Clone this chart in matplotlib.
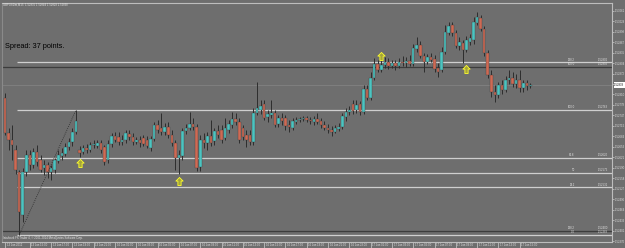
import matplotlib
matplotlib.use('Agg')
import matplotlib.pyplot as plt
from matplotlib.patches import Rectangle
from matplotlib.path import Path
import numpy as np

# ---------------- data (GBPUSD candles) ----------------
opens = [1.52799,1.52694,1.52673,1.52643,1.52577,1.52448,1.52577,1.52628,1.52598,1.52637,
         1.52613,1.52589,1.52598,1.52577,1.52583,1.52610,1.52625,1.52631,1.52652,1.52667,
         1.52697,1.52643,1.52637,1.52649,1.52643,1.52658,1.52655,1.52664,1.52652,1.52613,
         1.52661,1.52685,1.52682,1.52667,1.52673,1.52691,1.52682,1.52667,1.52673,1.52679,
         1.52673,1.52649,1.52676,1.52718,1.52709,1.52697,1.52712,1.52688,1.52664,1.52619,
         1.52625,1.52700,1.52709,1.52721,1.52712,1.52592,1.52673,1.52664,1.52685,1.52670,
         1.52700,1.52703,1.52679,1.52703,1.52718,1.52736,1.52727,1.52709,1.52688,1.52688,
         1.52667,1.52754,1.52763,1.52781,1.52742,1.52748,1.52754,1.52721,1.52739,1.52739,
         1.52718,1.52709,1.52727,1.52733,1.52736,1.52739,1.52733,1.52727,1.52736,1.52730,
         1.52718,1.52709,1.52703,1.52697,1.52706,1.52712,1.52742,1.52757,1.52781,1.52763,
         1.52781,1.52757,1.52826,1.52799,1.52859,1.52901,1.52883,1.52898,1.52907,1.52895,
         1.52904,1.52895,1.52907,1.52904,1.52910,1.52901,1.52946,1.52958,1.52925,1.52907,
         1.52922,1.52916,1.52889,1.52883,1.52937,1.52994,1.53018,1.52994,1.52955,1.52964,
         1.52943,1.52967,1.52973,1.53024,1.53039,1.53006,1.52934,1.52868,1.52817,1.52808,
         1.52838,1.52823,1.52853,1.52859,1.52841,1.52853,1.52829,1.52844,1.52835]
highs = [1.52814,1.52709,1.52718,1.52658,1.52583,1.52589,1.52643,1.52643,1.52649,1.52658,
         1.52628,1.52613,1.52607,1.52598,1.52619,1.52643,1.52649,1.52664,1.52679,1.52709,
         1.52763,1.52655,1.52658,1.52661,1.52667,1.52673,1.52673,1.52673,1.52658,1.52673,
         1.52694,1.52697,1.52697,1.52688,1.52703,1.52703,1.52694,1.52682,1.52685,1.52688,
         1.52685,1.52685,1.52727,1.52733,1.52754,1.52724,1.52727,1.52703,1.52673,1.52643,
         1.52709,1.52721,1.52757,1.52739,1.52721,1.52688,1.52694,1.52697,1.52733,1.52709,
         1.52718,1.52718,1.52739,1.52733,1.52757,1.52754,1.52739,1.52718,1.52703,1.52703,
         1.52769,1.52847,1.52793,1.52793,1.52763,1.52793,1.52763,1.52748,1.52754,1.52748,
         1.52733,1.52739,1.52742,1.52742,1.52745,1.52745,1.52742,1.52745,1.52754,1.52739,
         1.52730,1.52721,1.52715,1.52718,1.52724,1.52754,1.52769,1.52775,1.52793,1.52793,
         1.52790,1.52838,1.52838,1.52877,1.52919,1.52913,1.52913,1.52922,1.52919,1.52913,
         1.52913,1.52919,1.52925,1.52922,1.52928,1.52961,1.52982,1.52970,1.52934,1.52931,
         1.52934,1.52928,1.52904,1.52952,1.53018,1.53027,1.53027,1.53003,1.52982,1.52973,
         1.52985,1.52991,1.53042,1.53057,1.53048,1.53015,1.52943,1.52883,1.52838,1.52847,
         1.52853,1.52865,1.52883,1.52877,1.52871,1.52883,1.52853,1.52853,1.52844]
lows = [1.52688,1.52643,1.52613,1.52571,1.52388,1.52427,1.52565,1.52583,1.52589,1.52595,
        1.52577,1.52568,1.52559,1.52553,1.52574,1.52604,1.52613,1.52625,1.52643,1.52655,
        1.52691,1.52622,1.52631,1.52634,1.52637,1.52649,1.52649,1.52634,1.52598,1.52604,
        1.52652,1.52667,1.52658,1.52658,1.52664,1.52673,1.52658,1.52661,1.52652,1.52655,
        1.52649,1.52640,1.52670,1.52694,1.52688,1.52688,1.52679,1.52655,1.52583,1.52571,
        1.52613,1.52691,1.52703,1.52703,1.52580,1.52580,1.52649,1.52643,1.52655,1.52658,
        1.52679,1.52664,1.52673,1.52694,1.52709,1.52718,1.52664,1.52673,1.52652,1.52658,
        1.52658,1.52748,1.52751,1.52733,1.52727,1.52739,1.52712,1.52712,1.52718,1.52703,
        1.52697,1.52703,1.52721,1.52727,1.52730,1.52727,1.52721,1.52718,1.52721,1.52709,
        1.52703,1.52694,1.52685,1.52694,1.52700,1.52706,1.52730,1.52748,1.52751,1.52754,
        1.52748,1.52751,1.52793,1.52793,1.52853,1.52877,1.52877,1.52889,1.52886,1.52889,
        1.52883,1.52889,1.52895,1.52892,1.52895,1.52895,1.52937,1.52919,1.52877,1.52901,
        1.52907,1.52877,1.52862,1.52877,1.52931,1.52988,1.52985,1.52949,1.52943,1.52904,
        1.52937,1.52958,1.52961,1.53018,1.53000,1.52925,1.52859,1.52802,1.52787,1.52799,
        1.52811,1.52817,1.52841,1.52832,1.52829,1.52817,1.52817,1.52823,1.52829]
closes = [1.52694,1.52673,1.52658,1.52583,1.52457,1.52577,1.52628,1.52598,1.52637,1.52607,
          1.52583,1.52598,1.52577,1.52589,1.52613,1.52628,1.52634,1.52652,1.52667,1.52697,
          1.52730,1.52634,1.52649,1.52643,1.52658,1.52661,1.52664,1.52643,1.52607,1.52661,
          1.52685,1.52673,1.52667,1.52673,1.52694,1.52682,1.52667,1.52673,1.52664,1.52661,
          1.52655,1.52676,1.52718,1.52703,1.52697,1.52712,1.52688,1.52664,1.52619,1.52628,
          1.52700,1.52709,1.52721,1.52712,1.52589,1.52673,1.52664,1.52685,1.52664,1.52700,
          1.52688,1.52673,1.52709,1.52721,1.52736,1.52727,1.52673,1.52682,1.52673,1.52667,
          1.52754,1.52769,1.52775,1.52739,1.52751,1.52754,1.52718,1.52739,1.52730,1.52715,
          1.52712,1.52730,1.52733,1.52736,1.52739,1.52733,1.52730,1.52736,1.52727,1.52718,
          1.52709,1.52703,1.52697,1.52709,1.52712,1.52745,1.52757,1.52763,1.52760,1.52778,
          1.52757,1.52826,1.52799,1.52859,1.52901,1.52883,1.52898,1.52907,1.52895,1.52904,
          1.52895,1.52907,1.52904,1.52910,1.52901,1.52949,1.52958,1.52925,1.52907,1.52922,
          1.52913,1.52886,1.52877,1.52937,1.52997,1.53015,1.52994,1.52955,1.52967,1.52943,
          1.52973,1.52979,1.53027,1.53042,1.53006,1.52934,1.52868,1.52817,1.52808,1.52838,
          1.52823,1.52853,1.52859,1.52841,1.52853,1.52829,1.52844,1.52835,1.52838]

time_label_bars = [0, 7, 13, 19, 25, 31, 37, 43, 49, 55, 61, 67, 73, 79, 85, 91, 97,
                   103, 109, 115, 121, 127, 133, 139, 145]
time_labels = ["13 Jan 2012", "13 Jan 15:00", "13 Jan 17:00", "13 Jan 19:00", "13 Jan 21:00",
               "16 Jan 01:00", "16 Jan 03:00", "16 Jan 05:00", "16 Jan 07:00", "16 Jan 09:00",
               "16 Jan 11:00", "16 Jan 13:00", "16 Jan 15:00", "16 Jan 17:00", "16 Jan 19:00",
               "16 Jan 21:00", "16 Jan 23:00", "17 Jan 01:00", "17 Jan 03:00", "17 Jan 05:00",
               "17 Jan 07:00", "17 Jan 09:00", "17 Jan 11:00", "17 Jan 13:00", "17 Jan 15:00"]

fib_ratios = [0.0, 38.2, 50.0, 61.8, 100.0, 138.2]
fib_low_bar, fib_high_bar = 4, 20
dark_levels = [1.52892, 1.52400]
dark_level_names = ["100.0", "138.2"]
arrow_bars = [21, 49, 106, 130]
arrow_prices = [1.52604, 1.52550, 1.52925, 1.52886]
symbol = "GBPUSDm,M15"
spread_text = "Spread: 37 points."

# ---------------- styling ----------------
BG = '#6e6e6e'
BULL = '#4cc4c1'
BEAR = '#cf6a54'
WICK = '#2e2e2e'
SMALL = dict(fontsize=2.0, family='Liberation Sans')

W, H = 625, 248
fig = plt.figure(figsize=(W / 100, H / 100), dpi=100)
fig.patch.set_facecolor(BG)
ax = fig.add_axes([2 / W, (H - 242) / H, 610 / W, 239 / H])
ax.set_facecolor(BG)

n = len(closes)
xs = np.arange(n)
ax.vlines(xs, lows, highs, color=WICK, lw=0.7, zorder=3)
for i in range(n):
    o, c = opens[i], closes[i]
    up = c >= o
    bottom = min(o, c)
    hgt = max(abs(c - o), 0.000015)
    ax.add_patch(Rectangle((i - 0.36, bottom), 0.72, hgt,
                           facecolor=BULL if up else BEAR,
                           edgecolor='#3a3a3a', lw=0.25, zorder=4))

XMAX = 171
ax.set_xlim(-0.85, XMAX)
ylo, yhi = 1.52367, 1.53084
ax.set_ylim(ylo, yhi)

# Fibonacci (light) levels
f_lo = lows[fib_low_bar]
f_hi = highs[fib_high_bar]
for r in fib_ratios:
    lvl = f_lo + (f_hi - f_lo) * r / 100.0
    ax.hlines(lvl, fib_low_bar - 0.6, XMAX, color='#cfcfcf', lw=0.9, zorder=2)
    lab = "50" if r == 50.0 else f"{r:.1f}"
    ax.text(160.5, lvl + 0.00002, lab, color='#e6e6e6', ha='right',
            va='bottom', zorder=6, **SMALL)
    ax.text(169.8, lvl + 0.00002, f"{lvl:.5f}", color='#e6e6e6',
            ha='right', va='bottom', zorder=6, **SMALL)
for lvl, nm in zip(dark_levels, dark_level_names):
    ax.hlines(lvl, -0.85, XMAX, color='#3c3c3c', lw=0.9, zorder=2)
    ax.text(160.5, lvl + 0.00002, nm, color='#e6e6e6', ha='right',
            va='bottom', zorder=6, **SMALL)
    ax.text(169.8, lvl + 0.00002, f"{lvl:.5f}", color='#e6e6e6',
            ha='right', va='bottom', zorder=6, **SMALL)

# Fibo trend line (dotted)
ax.plot([fib_low_bar, fib_high_bar], [f_lo, f_hi], ls=(0, (1, 1.5)), color='#2a2a2a',
        lw=0.6, zorder=5)

# bid line
ax.axhline(closes[-1], color='#858585', lw=0.5, zorder=1)

# arrows
arrow_verts = [(0, 1), (0.9, 0.1), (0.4, 0.1), (0.4, -1), (-0.4, -1), (-0.4, 0.1),
               (-0.9, 0.1), (0, 1)]
arrow_path = Path(arrow_verts, [Path.MOVETO] + [Path.LINETO] * 6 + [Path.CLOSEPOLY])
ax.scatter(arrow_bars, arrow_prices, marker=arrow_path, s=34, facecolor='#a4a43a',
           edgecolor='#ffff2a', linewidths=0.6, zorder=7)

# spines
for s in ['left', 'top', 'right', 'bottom']:
    ax.spines[s].set_color('#bdbdbd')
    ax.spines[s].set_linewidth(0.8)
ax.spines['left'].set_color('#8a8a8a')

# y axis on right (label under the price box is covered, so left blank)
ax.yaxis.tick_right()
yt = np.arange(1.52370, yhi, 0.000314)
ax.set_yticks(yt)
ylabels = ["" if abs(v - closes[-1]) < 0.00016 else f"{v:.5f}" for v in yt]
ax.set_yticklabels(ylabels, color='#e0e0e0', **SMALL)
ax.tick_params(axis='y', length=1.5, width=0.5, color='#cfcfcf', pad=0.5)

# x axis ticks and labels
ax.set_xticks(time_label_bars)
ax.set_xticklabels([])
ax.tick_params(axis='x', length=4.0, width=0.5, color='#cfcfcf')
xtr = ax.get_xaxis_transform()
for b, t in zip(time_label_bars, time_labels):
    ax.text(b + 0.45, -3.4 / 239, t, transform=xtr, color='#e0e0e0',
            ha='left', va='center', clip_on=False, **SMALL)

# current price box
ax.text(1.0035, (closes[-1] - ylo) / (yhi - ylo), f"{closes[-1]:.5f}",
        transform=ax.transAxes, color='black', ha='left', va='center',
        bbox=dict(boxstyle='square,pad=0.2', facecolor='white', edgecolor='none'),
        zorder=8, clip_on=False, **SMALL)

# texts
fig.text(3 / W, 1 - 5 / H,
         f"{symbol}  {opens[-1]:.5f} {highs[-1]:.5f} {lows[-1]:.5f} {closes[-1]:.5f}",
         color='#e8e8e8', va='center', ha='left', **SMALL)
fig.text(5 / W, 1 - 47 / H, spread_text, fontsize=5.3, color='black', va='center',
         ha='left', family='Liberation Sans')
fig.text(3 / W, 1 - 238.5 / H,
         "Interbank FX Trader 4, \u00a9 2001-2014 MetaQuotes Software Corp.",
         color='#e8e8e8', va='center', ha='left', **SMALL)

fig.savefig('out.png', dpi=100, facecolor=BG)
